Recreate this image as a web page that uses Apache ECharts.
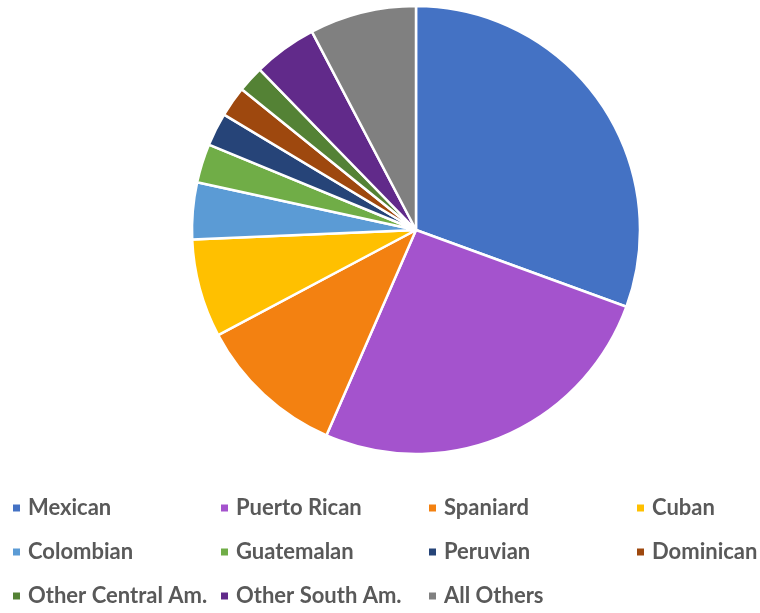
<!DOCTYPE html>
<html>
<head>
<meta charset="utf-8">
<script src="https://cdn.jsdelivr.net/npm/echarts@6/dist/echarts.min.js"></script>
<style>html,body{margin:0;padding:0;background:#fff}#c{width:760px;height:613px}</style>
</head>
<body>
<div id="c"></div>
<script>
const categories = ["Mexican","Puerto Rican","Spaniard","Cuban","Colombian","Guatemalan","Peruvian","Dominican","Other Central Am.","Other South Am.","All Others"];
const shares = [30.6, 26.0, 10.7, 7.1, 4.1, 2.8, 2.4, 2.2, 1.9, 4.6, 7.7];
const colors = ["#4472C4","#A453CD","#F38111","#FFC000","#5B9BD5","#70AD47","#264478","#9E480E","#548235","#612A8A","#808080"];

const chart = echarts.init(document.getElementById('c'), null, {renderer:'canvas'});
const colLefts = [11, 219, 427, 635];
const legends = colLefts.map((left, ci) => ({
  data: categories.filter((_, i) => i % 4 === ci),
  orient: 'vertical',
  left: left,
  top: 497,
  itemWidth: 9,
  itemHeight: 9,
  itemGap: 22,
  icon: 'rect',
  padding: 0,
  selectedMode: false,
  textStyle: {fontFamily: 'Lato', fontWeight: 'bold', fontSize: 22, color: '#595959', lineHeight: 22, padding: [0,0,0,2]}
}));
chart.setOption({
  animation: false,
  color: colors,
  legend: legends,
  series: [{
    type: 'pie',
    center: [416, 230],
    radius: [0, 224],
    startAngle: 90,
    clockwise: true,
    label: {show: false},
    labelLine: {show: false},
    emphasis: {disabled: true},
    itemStyle: {borderColor: '#fff', borderWidth: 2.5},
    data: categories.map((n, i) => ({name: n, value: shares[i]}))
  }]
});
</script>
</body>
</html>
